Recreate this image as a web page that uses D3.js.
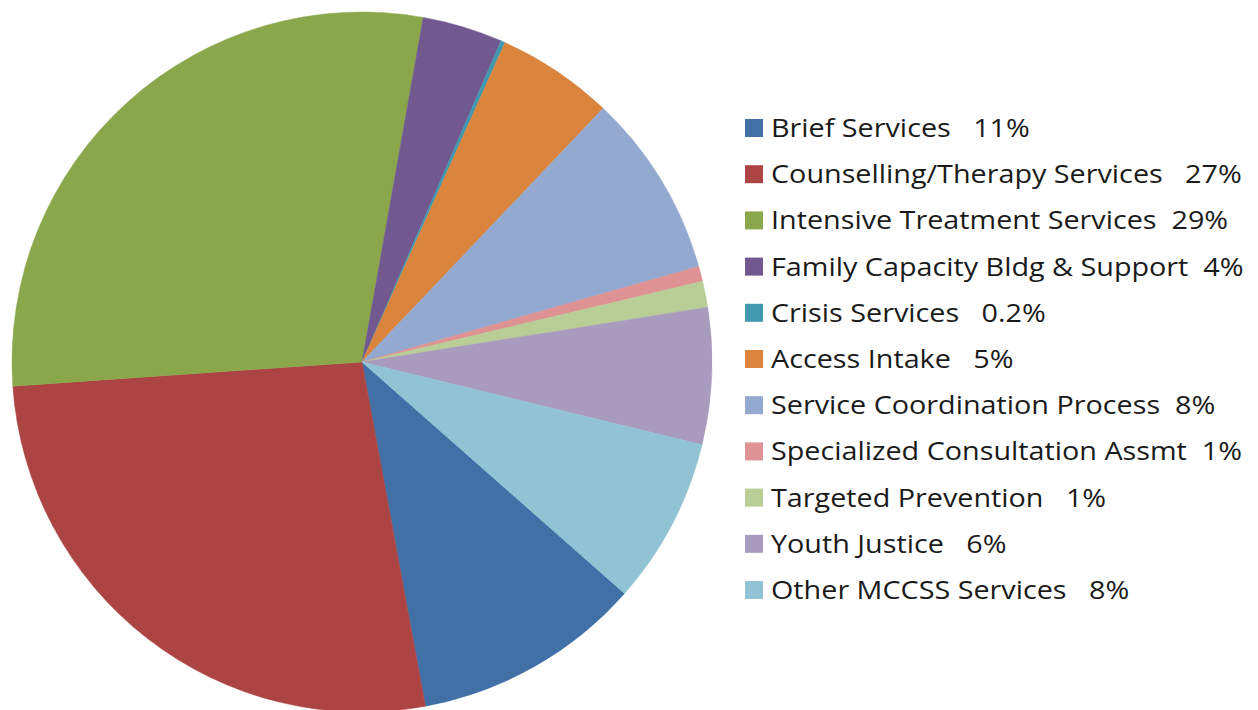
<!DOCTYPE html>
<html>
<head>
<meta charset="utf-8">
<script src="https://cdn.jsdelivr.net/npm/d3@7"></script>
<style>
  html, body { margin: 0; padding: 0; background: #fff; }
  svg { display: block; }
  .legend text { font-family: "Open Sans", Lato, sans-serif; font-size: 25px; fill: #1a1a1a; white-space: pre; }
</style>
</head>
<body>
<script>
// slice order as in the legend, values in percent
const categories = ['Brief Services', 'Counselling/Therapy Services', 'Intensive Treatment Services',
  'Family Capacity Bldg & Support', 'Crisis Services', 'Access Intake', 'Service Coordination Process',
  'Specialized Consultation Assmt', 'Targeted Prevention', 'Youth Justice', 'Other MCCSS Services']
const values = [10.6, 26.8, 28.9, 3.7, 0.2, 5.4, 8.5, 0.7, 1.2, 6.3, 7.7]
const legendLabels = ['Brief Services   11%', 'Counselling/Therapy Services   27%', 'Intensive Treatment Services  29%',
  'Family Capacity Bldg & Support  4%', 'Crisis Services   0.2%', 'Access Intake   5%',
  'Service Coordination Process  8%', 'Specialized Consultation Assmt  1%', 'Targeted Prevention   1%',
  'Youth Justice   6%', 'Other MCCSS Services   8%']
const colors = ['#4170a7', '#ab4442', '#8ba74c', '#71588f', '#4198af', '#db843d',
  '#93a9cf', '#df9293', '#b9cd96', '#a99bbd', '#92c3d5']

const width = 1258
const height = 710
const cx = 362
const cy = 362
const radius = 350
const start = 131.4 * Math.PI / 180

const svg = d3.select('body').append('svg')
  .attr('width', width)
  .attr('height', height)

const color = d3.scaleOrdinal().domain(categories).range(colors)

const pie = d3.pie()
  .sort(null)
  .value(d => d.value)
  .startAngle(start)
  .endAngle(start + 2 * Math.PI)

const arc = d3.arc().innerRadius(0).outerRadius(radius)

const data = categories.map((c, i) => ({ name: c, value: values[i], label: legendLabels[i] }))

svg.append('g')
  .attr('transform', `translate(${cx},${cy})`)
  .selectAll('path')
  .data(pie(data))
  .join('path')
  .attr('d', arc)
  .attr('fill', d => color(d.data.name))
  .attr('stroke', d => color(d.data.name))
  .attr('stroke-width', 0.5)

/*
LEGEND
*/
const rowY = d3.scalePoint().domain(categories).range([128, 590])

const legend = svg.append('g').attr('class', 'legend')
const rows = legend.selectAll('g')
  .data(data)
  .join('g')
  .attr('transform', d => `translate(745,${rowY(d.name)})`)

rows.append('rect')
  .attr('x', 0)
  .attr('y', -9)
  .attr('width', 18)
  .attr('height', 18)
  .attr('fill', d => color(d.name))

// the original font is wider than what we have, so stretch it a bit
rows.append('text')
  .attr('transform', 'translate(26,0) scale(1.15,1)')
  .attr('dy', '0.36em')
  .text(d => d.label)
</script>
</body>
</html>
